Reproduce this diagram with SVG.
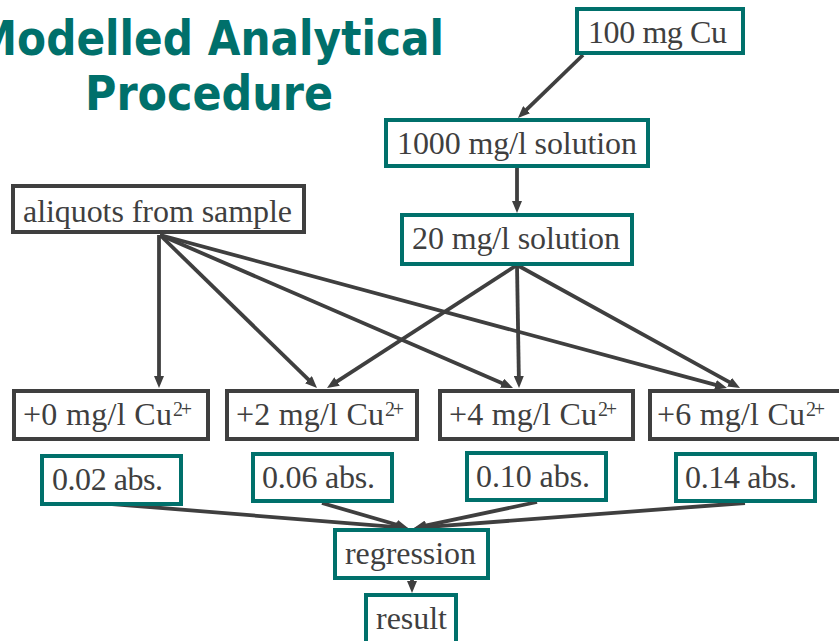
<svg xmlns="http://www.w3.org/2000/svg" width="839" height="641" viewBox="0 0 839 641">
<style>
.title{font-family:"DejaVu Sans","Verdana",sans-serif;font-weight:bold;font-size:48px;fill:#00706b}
.box{fill:#ffffff;stroke-width:4}
.teal{stroke:#00706b}
.gray{stroke:#3f3f3f}
.lbl{font-family:"Liberation Serif","Times New Roman",serif;font-size:32px;fill:#3f3f3f}
.sup{font-family:"Liberation Serif","Times New Roman",serif;font-size:20px;fill:#3f3f3f}
.conn line{stroke:#3f3f3f;stroke-width:3.8;marker-end:url(#ah)}
</style>
<defs>
<marker id="ah" markerUnits="userSpaceOnUse" markerWidth="12" markerHeight="10" refX="4" refY="5" orient="auto">
<path d="M0,0 L12,5 L0,10 z" fill="#3f3f3f"/>
</marker>
</defs>
<rect width="839" height="641" fill="#ffffff"/>
<g id="title">
<text class="title" x="-25" y="55" textLength="469" lengthAdjust="spacingAndGlyphs">Modelled Analytical</text>
<text class="title" x="85" y="110" textLength="248" lengthAdjust="spacingAndGlyphs">Procedure</text>
</g>
<g class="conn" id="connectors">
<line x1="583" y1="55" x2="523.7" y2="112.4"/>
<line x1="517" y1="168" x2="517" y2="205"/>
<line x1="159" y1="235" x2="159" y2="380"/>
<line x1="160" y1="235" x2="311.3" y2="382.4"/>
<line x1="160" y1="235" x2="505.7" y2="384.8"/>
<line x1="160" y1="235" x2="719.3" y2="385.9"/>
<line x1="517" y1="265" x2="333.7" y2="383.6"/>
<line x1="517" y1="265" x2="518.9" y2="380"/>
<line x1="517" y1="265" x2="733" y2="384.1"/>
<line x1="112" y1="504" x2="400" y2="527.4"/>
<line x1="322" y1="503" x2="400.3" y2="525.8"/>
<line x1="537" y1="502" x2="421.8" y2="526.3"/>
<line x1="745" y1="503" x2="422" y2="527.4"/>
<line x1="412" y1="580" x2="412" y2="585"/>
</g>
<g id="n100mg">
<rect class="box teal" x="577" y="9" width="166" height="44"/>
<text class="lbl" x="588" y="43" textLength="139">100 mg Cu</text>
</g>
<g id="n1000">
<rect class="box teal" x="386" y="120" width="262" height="46"/>
<text class="lbl" x="397" y="154" textLength="240">1000 mg/l solution</text>
</g>
<g id="n20">
<rect class="box teal" x="402" y="215" width="230" height="49"/>
<text class="lbl" x="412" y="249" textLength="208">20 mg/l solution</text>
</g>
<g id="aliquots">
<rect class="box gray" x="13" y="186" width="291" height="46"/>
<text class="lbl" x="23" y="222" textLength="269">aliquots from sample</text>
</g>
<g id="plus0">
<rect class="box gray" x="14" y="391" width="194" height="48"/>
<text class="lbl" x="23" y="425" textLength="149">+0 mg/l Cu</text>
<text class="sup" x="173" y="416" textLength="19">2+</text>
</g>
<g id="plus2">
<rect class="box gray" x="227" y="391" width="190" height="48"/>
<text class="lbl" x="236" y="425" textLength="148">+2 mg/l Cu</text>
<text class="sup" x="385" y="416" textLength="19">2+</text>
</g>
<g id="plus4">
<rect class="box gray" x="440" y="391" width="193" height="48"/>
<text class="lbl" x="449" y="425" textLength="148">+4 mg/l Cu</text>
<text class="sup" x="598" y="416" textLength="19">2+</text>
</g>
<g id="plus6">
<rect class="box gray" x="650" y="391" width="200" height="48"/>
<text class="lbl" x="657" y="425" textLength="148">+6 mg/l Cu</text>
<text class="sup" x="806" y="416" textLength="19">2+</text>
</g>
<g id="abs002">
<rect class="box teal" x="42" y="456" width="139" height="48"/>
<text class="lbl" x="52" y="490" textLength="111">0.02 abs.</text>
</g>
<g id="abs006">
<rect class="box teal" x="253" y="454" width="139" height="47"/>
<text class="lbl" x="262" y="488" textLength="113">0.06 abs.</text>
</g>
<g id="abs010">
<rect class="box teal" x="467" y="453" width="139" height="47"/>
<text class="lbl" x="476" y="487" textLength="114">0.10 abs.</text>
</g>
<g id="abs014">
<rect class="box teal" x="676" y="454" width="139" height="47"/>
<text class="lbl" x="685" y="488" textLength="112">0.14 abs.</text>
</g>
<g id="regression">
<rect class="box teal" x="335" y="530" width="153" height="48"/>
<text class="lbl" x="345" y="564" textLength="131">regression</text>
</g>
<g id="result">
<rect class="box teal" x="366" y="595" width="90" height="60"/>
<text class="lbl" x="376" y="629" textLength="71">result</text>
</g>
</svg>
